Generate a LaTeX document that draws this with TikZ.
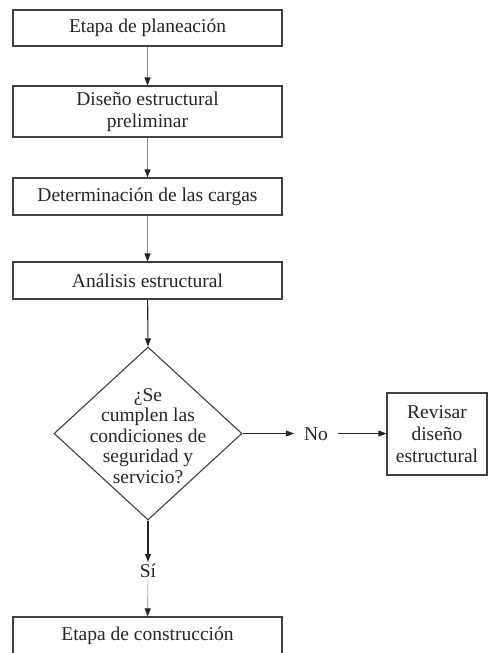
\documentclass[tikz,border=0pt]{standalone}
\usepackage{fontspec}
\setmainfont{Liberation Serif}
\usepackage{tikz}
\usetikzlibrary{arrows.meta,shapes.geometric}

\begin{document}
\begin{tikzpicture}[x=1pt,y=1pt,font=\fontsize{19.5}{22}\selectfont,
  >={Triangle[length=8pt,width=6pt,color=black!85]},
  stepbox/.style={draw=black!75,line width=1.1pt,text=black!85,align=center,minimum width=269pt,inner sep=0pt},
  thin/.style={draw=black!45,line width=0.6pt},
  thick/.style={draw=black!85,line width=1.1pt}]
\path[use as bounding box,clip] (0,0) rectangle (488,-653);
\node[stepbox,minimum height=36pt] (plan) at (147.5,-28) {Etapa de planeación};
\node[stepbox,minimum height=51pt] (prel) at (147.5,-111.5) {Diseño estructural\\preliminar};
\node[stepbox,minimum height=37pt] (carg) at (147.5,-196.5) {Determinación de las cargas};
\node[stepbox,minimum height=37pt] (anal) at (147.5,-280.5) {Análisis estructural};
\node[diamond,draw=black!75,line width=1.1pt,minimum width=188pt,minimum height=173pt,inner sep=0pt] (cond) at (148,-433.5) {};
\node[text=black!85,align=center,font=\fontsize{19.5}{20.5}\selectfont] (condtxt) at (148,-436) {¿Se\\cumplen las\\condiciones de\\seguridad y\\servicio?};
\node[text=black!85,inner xsep=10pt] (no) at (316,-434.5) {No};
\node[stepbox,minimum width=100pt,minimum height=82pt] (rev) at (437,-434) {Revisar\\diseño\\estructural};
\node[text=black!85,inner sep=2pt] (si) at (148,-571) {Sí};
\node[stepbox,minimum height=37pt] (cons) at (147.5,-635.5) {Etapa de construcción};
\draw[thin,->] (plan) -- (prel);
\draw[thin,->] (prel) -- (carg);
\draw[thin,->] (carg) -- (anal);
\draw[thick,->] (anal) -- (cond.north);
\draw[thick,->] (cond.east) -- (cond.east -| no.west);
\draw[thick,->] (cond.east -| no.east) -- (cond.east -| rev.west);
\draw[thick,->] (cond.south) -- (si);
\draw[thin,->] (si) -- (cons);
\end{tikzpicture}
\end{document}
